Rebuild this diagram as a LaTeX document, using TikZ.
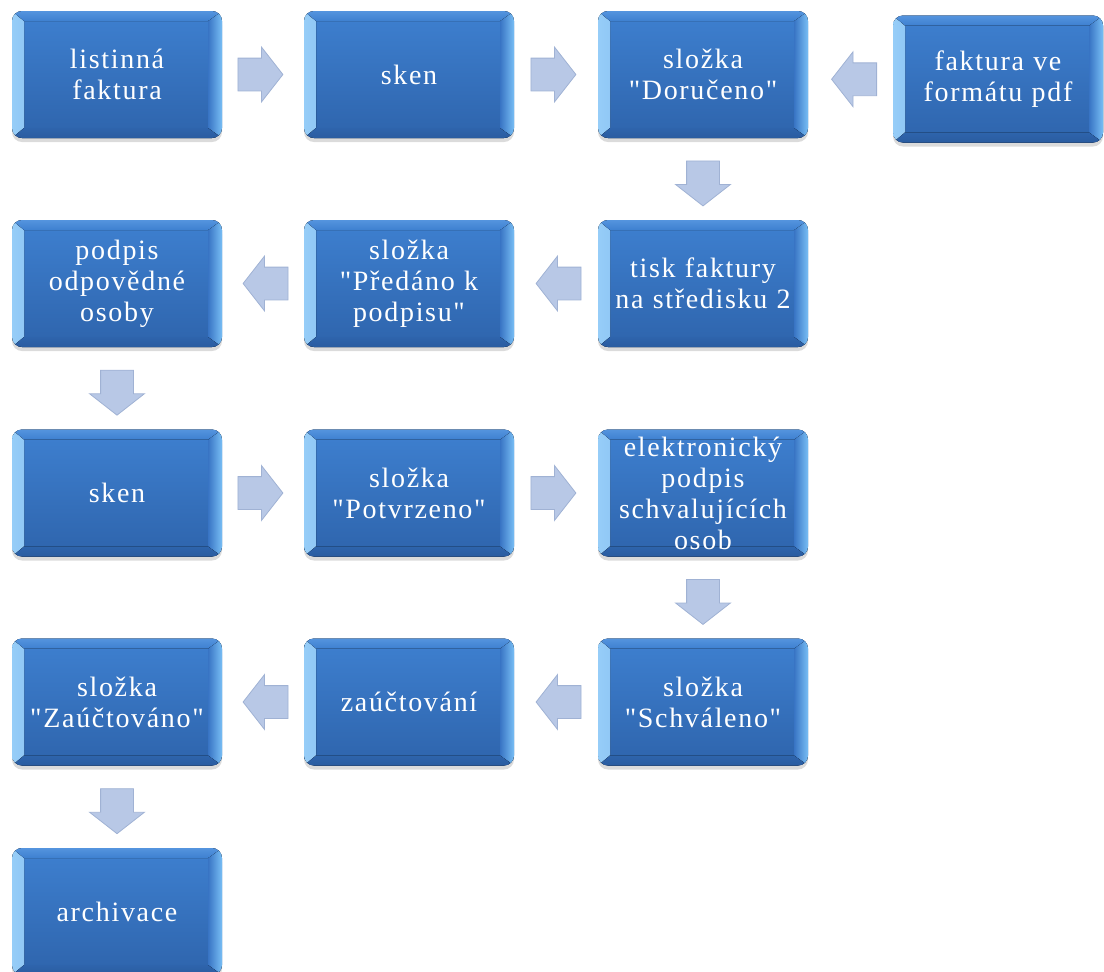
\documentclass[tikz,border=0pt]{standalone}
\usepackage{fontspec}
\setmainfont{Liberation Serif}[LetterSpace=6, Ligatures=TeXOff]
\usetikzlibrary{shapes.arrows,shadows,calc}

\definecolor{boxtop}{RGB}{62,128,208}
\definecolor{boxmid}{RGB}{56,116,196}
\definecolor{boxbot}{RGB}{46,100,172}
\definecolor{bevL}{RGB}{150,205,248}
\definecolor{bevR}{RGB}{120,190,245}
\definecolor{bevB}{RGB}{42,92,160}
\definecolor{bevT}{RGB}{84,148,222}
\definecolor{arrfill}{RGB}{184,200,230}
\definecolor{arrline}{RGB}{160,178,212}

\tikzset{
  stage/.style={
    rounded corners=5pt, minimum width=105pt, minimum height=63.5pt,
    text width=102pt, align=center, text=white, inner sep=0pt,
    font=\fontsize{14}{15.5}\selectfont,
    top color=boxtop, bottom color=boxbot,
    drop shadow={shadow xshift=0pt, shadow yshift=-2pt, opacity=0.2, fill=black!70},
    path picture={
      % left bevel
      \fill[sharp corners, left color=bevL, right color=boxmid]
        (path picture bounding box.south west)
        -- ([shift={(6pt,5pt)}]path picture bounding box.south west)
        -- ([shift={(6pt,-5pt)}]path picture bounding box.north west)
        -- (path picture bounding box.north west) -- cycle;
      % right bevel
      \fill[sharp corners, left color=boxmid, right color=bevR]
        (path picture bounding box.south east)
        -- ([shift={(-7pt,5pt)}]path picture bounding box.south east)
        -- ([shift={(-7pt,-5pt)}]path picture bounding box.north east)
        -- (path picture bounding box.north east) -- cycle;
      % bottom bevel
      \fill[sharp corners, top color=boxbot, bottom color=bevB]
        (path picture bounding box.south west)
        -- ([shift={(6pt,5pt)}]path picture bounding box.south west)
        -- ([shift={(-7pt,5pt)}]path picture bounding box.south east)
        -- (path picture bounding box.south east) -- cycle;
      % top bevel
      \fill[sharp corners, top color=bevT, bottom color=boxtop]
        (path picture bounding box.north west)
        -- ([shift={(6pt,-5pt)}]path picture bounding box.north west)
        -- ([shift={(-7pt,-5pt)}]path picture bounding box.north east)
        -- (path picture bounding box.north east) -- cycle;
    }
  },
  flow/.style={
    single arrow, draw=arrline, fill=arrfill, line width=0.4pt,
    minimum height=22.5pt, inner xsep=0pt, inner ysep=8pt,
    text height=0pt, text depth=0pt, text width=0pt,
    single arrow head extend=5.5pt, single arrow tip angle=104,
    single arrow head indent=0pt
  }
}

\begin{document}
\begin{tikzpicture}[x=0.5pt,y=-0.5pt]
  \useasboundingbox (0,0) rectangle (1104,971);

  % process boxes
  \node[stage] (a1) at (117,74.5) {listinná\\faktura};
  \node[stage] (a2) at (409,74.5) {sken};
  \node[stage] (a3) at (703,74.5) {složka\\"Doručeno"};
  \node[stage] (a4) at (998,79) {faktura ve\\formátu pdf};

  \node[stage] (b3) at (703,283.5) {tisk faktury\\na středisku 2};
  \node[stage] (b2) at (409,283.5) {složka\\"Předáno k\\podpisu"};
  \node[stage] (b1) at (117,283.5) {podpis\\odpovědné\\osoby};

  \node[stage] (c1) at (117,493) {sken};
  \node[stage] (c2) at (409,493) {složka\\"Potvrzeno"};
  \node[stage] (c3) at (703,493) {elektronický\\podpis\\schvalujících\\osob};

  \node[stage] (d3) at (703,702) {složka\\"Schváleno"};
  \node[stage] (d2) at (409,702) {zaúčtování};
  \node[stage] (d1) at (117,702) {složka\\"Zaúčtováno"};

  \node[stage] (e1) at (117,911.5) {archivace};

  % block arrows between the boxes
  \node[flow] (f1) at ($(a1.east)!0.5!(a2.west)+(-9,0)$) {};
  \node[flow] (f2) at ($(a2.east)!0.5!(a3.west)+(-9,0)$) {};
  \node[flow, rotate=180] (f3) at ($(a3.east)!0.5!(a4.west)+(10,2.5)$) {};
  \node[flow, rotate=-90] (f4) at ($(a3.south)!0.5!(b3.north)+(0,-2)$) {};
  \node[flow, rotate=180] (f5) at ($(b3.west)!0.5!(b2.east)+(9,0)$) {};
  \node[flow, rotate=180] (f6) at ($(b2.west)!0.5!(b1.east)+(9,0)$) {};
  \node[flow, rotate=-90] (f7) at ($(b1.south)!0.5!(c1.north)+(0,-2)$) {};
  \node[flow] (f8) at ($(c1.east)!0.5!(c2.west)+(-9,0)$) {};
  \node[flow] (f9) at ($(c2.east)!0.5!(c3.west)+(-9,0)$) {};
  \node[flow, rotate=-90] (f10) at ($(c3.south)!0.5!(d3.north)+(0,-2)$) {};
  \node[flow, rotate=180] (f11) at ($(d3.west)!0.5!(d2.east)+(9,0)$) {};
  \node[flow, rotate=180] (f12) at ($(d2.west)!0.5!(d1.east)+(9,0)$) {};
  \node[flow, rotate=-90] (f13) at ($(d1.south)!0.5!(e1.north)+(0,-2)$) {};
\end{tikzpicture}
\end{document}
